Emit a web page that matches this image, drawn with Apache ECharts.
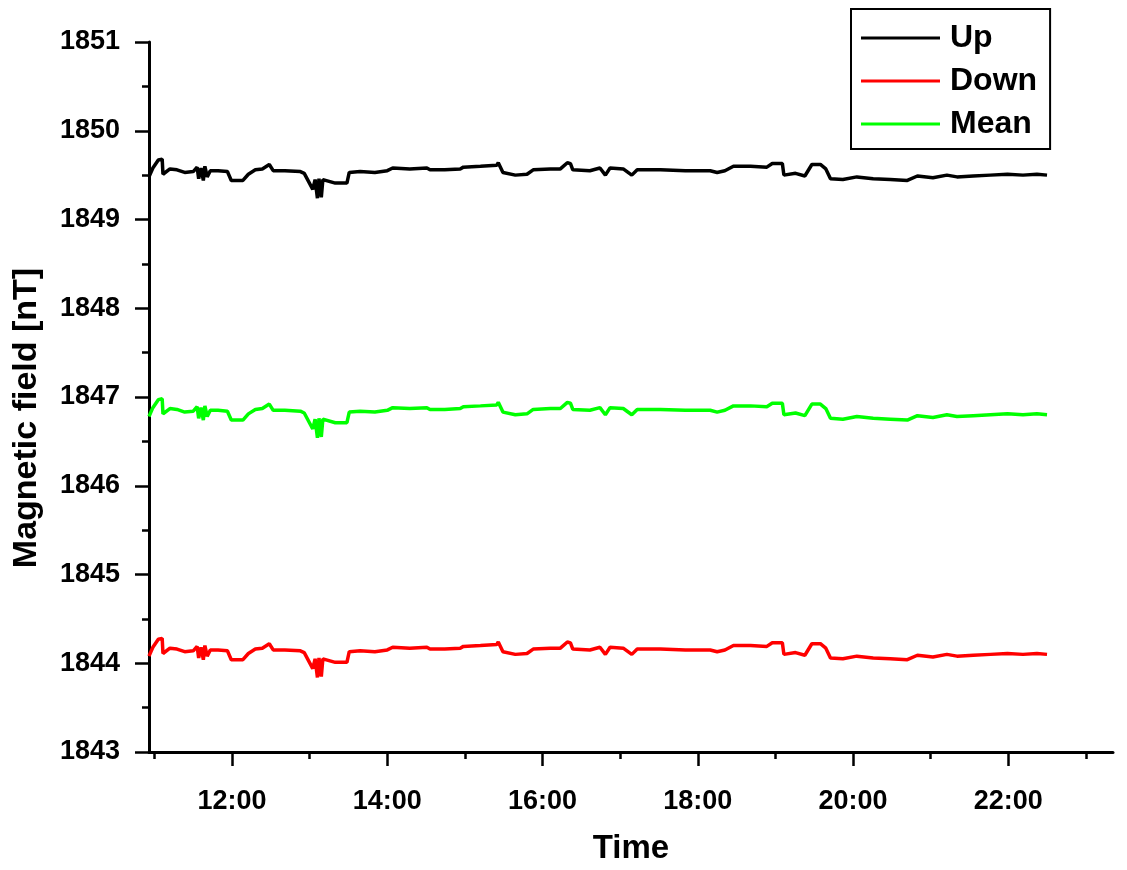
<!DOCTYPE html>
<html>
<head>
<meta charset="utf-8">
<script src="https://cdn.jsdelivr.net/npm/echarts@6/dist/echarts.min.js"></script>
<style>
html,body{margin:0;padding:0;background:#fff;}
#chart{width:1127px;height:870px;}
</style>
</head>
<body>
<div id="chart"></div>
<script>
// time in decimal hours
const times = [10.93,10.98,11.05,11.10,11.11,11.20,11.29,11.39,11.50,11.55,
  11.57,11.60,11.63,11.65,11.68,11.72,11.82,11.94,11.99,12.14,
  12.21,12.30,12.39,12.48,12.53,12.68,12.88,12.93,13.04,13.07,
  13.10,13.12,13.15,13.17,13.33,13.48,13.51,13.65,13.84,14.00,
  14.07,14.29,14.51,14.55,14.74,14.94,14.98,15.20,15.41,15.43,
  15.49,15.65,15.80,15.88,16.10,16.23,16.32,16.36,16.39,16.61,
  16.74,16.81,16.87,17.04,17.15,17.22,17.52,17.84,18.16,18.25,
  18.35,18.46,18.68,18.89,18.96,19.09,19.11,19.26,19.38,19.47,
  19.58,19.65,19.71,19.87,20.05,20.26,20.48,20.70,20.83,21.03,
  21.21,21.34,21.55,21.77,21.99,22.19,22.37,22.50];

const upValues = [1849.48,1849.58,1849.67,1849.68,1849.51,1849.57,1849.56,1849.53,1849.54,1849.59,
  1849.46,1849.58,1849.44,1849.60,1849.48,1849.55,1849.55,1849.54,1849.44,1849.44,
  1849.51,1849.56,1849.57,1849.62,1849.55,1849.55,1849.54,1849.52,1849.34,1849.45,
  1849.24,1849.46,1849.25,1849.45,1849.41,1849.41,1849.53,1849.54,1849.53,1849.55,
  1849.58,1849.57,1849.58,1849.56,1849.56,1849.57,1849.59,1849.60,1849.61,1849.64,
  1849.53,1849.50,1849.51,1849.56,1849.57,1849.57,1849.64,1849.63,1849.56,1849.55,
  1849.58,1849.50,1849.58,1849.57,1849.50,1849.56,1849.56,1849.55,1849.55,1849.53,
  1849.55,1849.60,1849.60,1849.59,1849.63,1849.63,1849.50,1849.52,1849.49,1849.62,
  1849.62,1849.57,1849.46,1849.45,1849.48,1849.46,1849.45,1849.44,1849.49,1849.47,
  1849.50,1849.48,1849.49,1849.50,1849.51,1849.50,1849.51,1849.50];

const downValues = [1844.08,1844.18,1844.27,1844.28,1844.11,1844.17,1844.16,1844.13,1844.14,1844.19,
  1844.06,1844.18,1844.04,1844.20,1844.08,1844.15,1844.15,1844.14,1844.04,1844.04,
  1844.11,1844.16,1844.17,1844.22,1844.15,1844.15,1844.14,1844.12,1843.94,1844.05,
  1843.84,1844.06,1843.85,1844.05,1844.01,1844.01,1844.13,1844.14,1844.13,1844.15,
  1844.18,1844.17,1844.18,1844.16,1844.16,1844.17,1844.19,1844.20,1844.21,1844.24,
  1844.13,1844.10,1844.11,1844.16,1844.17,1844.17,1844.24,1844.23,1844.16,1844.15,
  1844.18,1844.10,1844.18,1844.17,1844.10,1844.16,1844.16,1844.15,1844.15,1844.13,
  1844.15,1844.20,1844.20,1844.19,1844.23,1844.23,1844.10,1844.12,1844.09,1844.22,
  1844.22,1844.17,1844.06,1844.05,1844.08,1844.06,1844.05,1844.04,1844.09,1844.07,
  1844.10,1844.08,1844.09,1844.10,1844.11,1844.10,1844.11,1844.10];

const meanValues = [1846.78,1846.88,1846.97,1846.98,1846.81,1846.87,1846.86,1846.83,1846.84,1846.89,
  1846.76,1846.88,1846.74,1846.90,1846.78,1846.85,1846.85,1846.84,1846.74,1846.74,
  1846.81,1846.86,1846.87,1846.92,1846.85,1846.85,1846.84,1846.82,1846.64,1846.75,
  1846.54,1846.76,1846.55,1846.75,1846.71,1846.71,1846.83,1846.84,1846.83,1846.85,
  1846.88,1846.87,1846.88,1846.86,1846.86,1846.87,1846.89,1846.90,1846.91,1846.94,
  1846.83,1846.80,1846.81,1846.86,1846.87,1846.87,1846.94,1846.93,1846.86,1846.85,
  1846.88,1846.80,1846.88,1846.87,1846.80,1846.86,1846.86,1846.85,1846.85,1846.83,
  1846.85,1846.90,1846.90,1846.89,1846.93,1846.93,1846.80,1846.82,1846.79,1846.92,
  1846.92,1846.87,1846.76,1846.75,1846.78,1846.76,1846.75,1846.74,1846.79,1846.77,
  1846.80,1846.78,1846.79,1846.80,1846.81,1846.80,1846.81,1846.80];

const seriesNames = ['Up','Down','Mean'];
const seriesColors = ['#000000','#ff0000','#00ff00'];
const majorHours = [12,14,16,18,20,22];
const minorHours = [11,13,15,17,19,21,23];
const xTitle = 'Time';
const yTitle = 'Magnetic field [nT]';

const FONT = '"Liberation Sans", Arial, sans-serif';
const pair = vals => times.map((t,i)=>[t, vals[i]]);
const allValues = [upValues, downValues, meanValues];

const chart = echarts.init(document.getElementById('chart'), null, {renderer:'canvas'});
const xCommon = {type:'value', min:10.93, max:23.35, position:'bottom', splitLine:{show:false}};
chart.setOption({
  animation:false,
  backgroundColor:'#fff',
  grid:{left:149, top:42, right:14, bottom:115, containLabel:false},
  legend:{
    orient:'vertical', left:851, top:9,
    padding:[12,13,8,10],
    itemGap:9, itemWidth:79, itemHeight:3,
    borderColor:'#000', borderWidth:2,
    icon:'rect',
    textStyle:{fontFamily:FONT, fontSize:32, fontWeight:'bold', color:'#000', lineHeight:34, padding:[0,0,0,5]},
    data:seriesNames
  },
  graphic:[{
    type:'text', x:27, y:418, rotation:Math.PI/2,
    style:{text:yTitle, font:'bold 34px "Liberation Sans", Arial, sans-serif', fill:'#000', align:'center', verticalAlign:'middle'}
  }],
  xAxis:[
    Object.assign({}, xCommon, {
      name:xTitle, nameLocation:'middle', nameGap:80,
      nameTextStyle:{fontFamily:FONT, fontSize:33, fontWeight:'bold', color:'#000'},
      axisLine:{show:true, lineStyle:{color:'#000', width:3}},
      axisTick:{show:true, customValues:majorHours, length:14, lineStyle:{color:'#000', width:2.5}},
      axisLabel:{show:true, customValues:majorHours, margin:36, fontFamily:FONT, fontSize:27, fontWeight:'bold', color:'#000',
        formatter:v=>Math.round(v)+':00'}
    }),
    Object.assign({}, xCommon, {
      axisLine:{show:false},
      axisTick:{show:true, customValues:minorHours, length:7, lineStyle:{color:'#000', width:2.5}},
      axisLabel:{show:false}
    })
  ],
  yAxis:{
    type:'value', min:1843, max:1851, interval:1,
    axisLine:{show:true, lineStyle:{color:'#000', width:3}},
    axisTick:{show:true, length:14, lineStyle:{color:'#000', width:2.5}},
    minorTick:{show:true, splitNumber:2, length:7, lineStyle:{color:'#000', width:2.5}},
    splitLine:{show:false},
    axisLabel:{margin:29, fontFamily:FONT, fontSize:27, fontWeight:'bold', color:'#000', formatter:v=>String(v)}
  },
  series: seriesNames.map((n,i)=>({
    name:n, type:'line', xAxisIndex:0, showSymbol:false, symbol:'none',
    data:pair(allValues[i]),
    itemStyle:{color:seriesColors[i]},
    lineStyle:{color:seriesColors[i], width:3.5}
  }))
});
</script>
</body>
</html>
